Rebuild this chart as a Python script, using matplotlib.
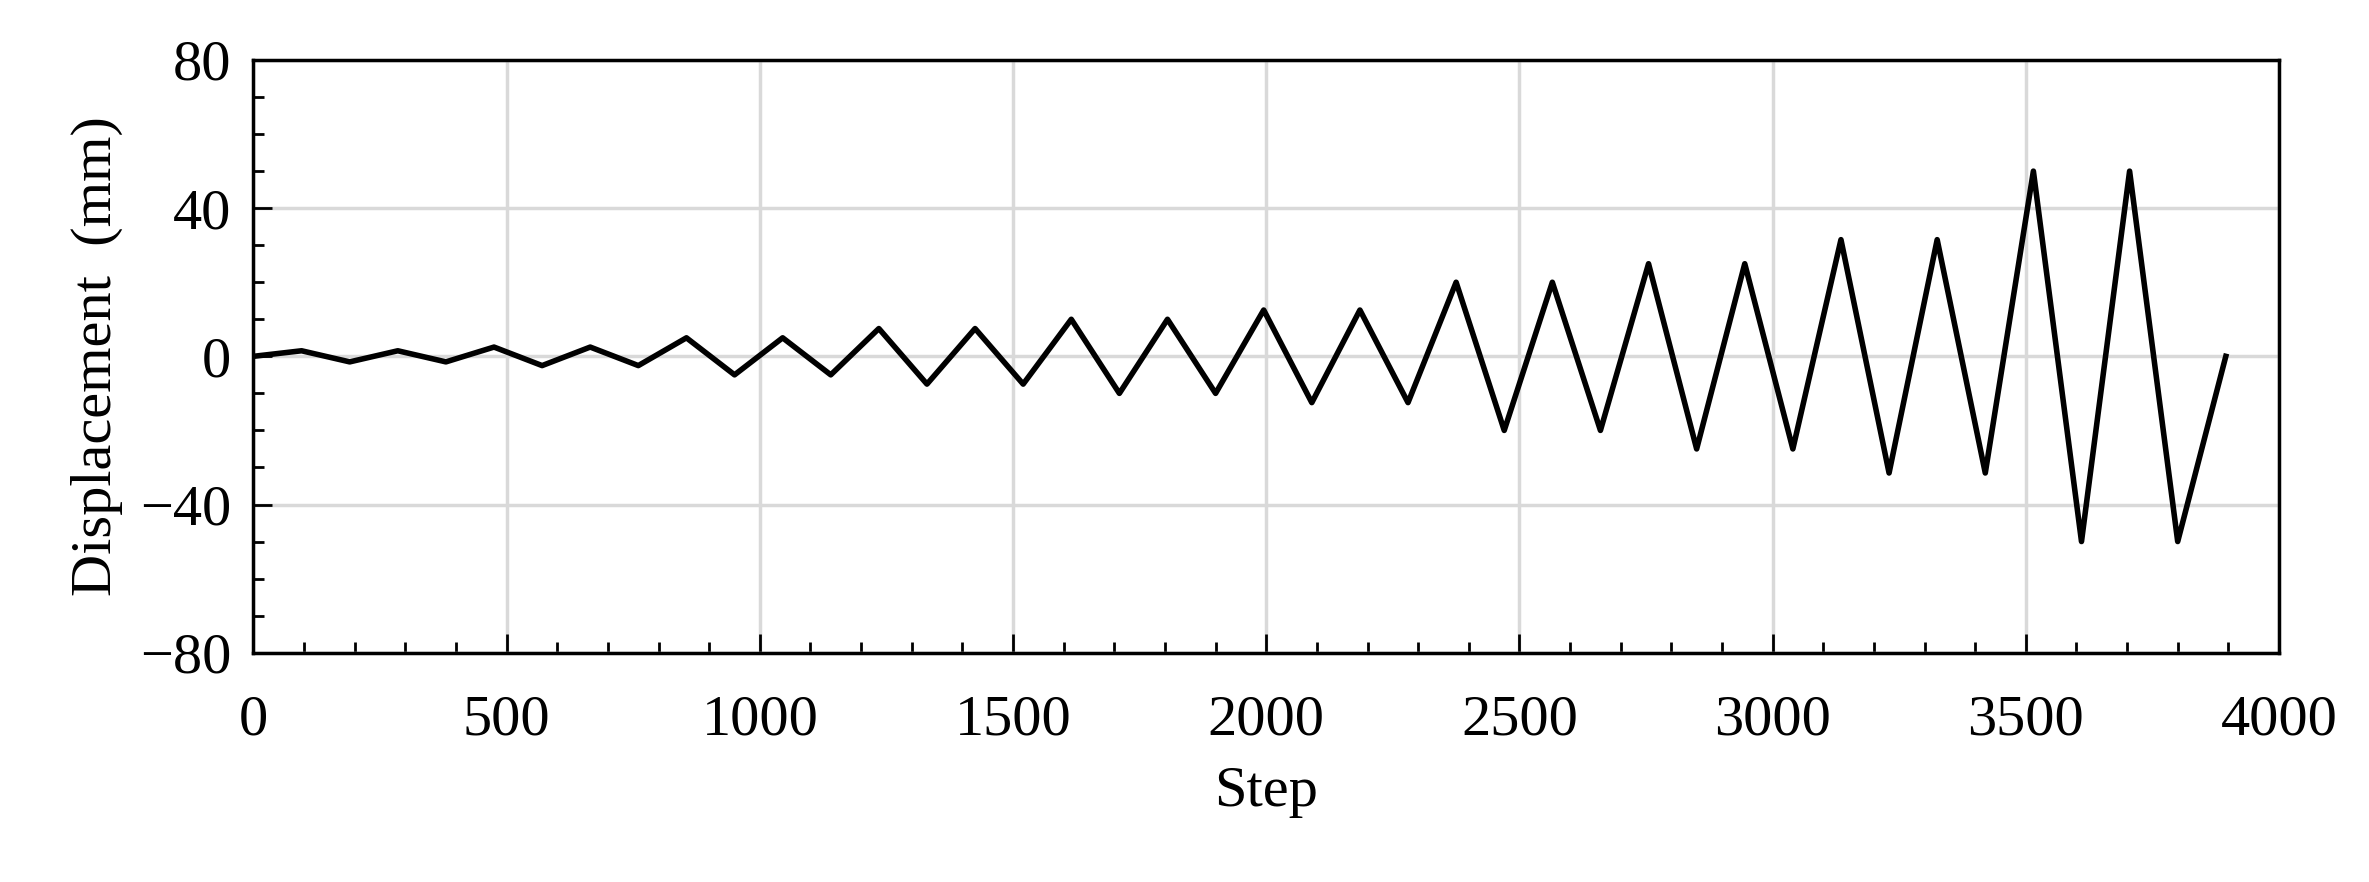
import matplotlib
matplotlib.use("Agg")
import matplotlib.pyplot as plt
from matplotlib.ticker import MultipleLocator

steps = [0, 95, 190, 285, 380, 475, 570, 665, 760, 855, 950, 1045, 1140, 1235, 1330, 1425, 1520,
         1615, 1710, 1805, 1900, 1995, 2090, 2185, 2280, 2375, 2470, 2565, 2660, 2755, 2850, 2945,
         3040, 3135, 3230, 3325, 3420, 3515, 3610, 3705, 3800, 3895]
disp = [0, 1.5, -1.5, 1.5, -1.5, 2.5, -2.5, 2.5, -2.5, 5, -5, 5, -5, 7.5, -7.5, 7.5, -7.5,
        10, -10, 10, -10, 12.5, -12.5, 12.5, -12.5, 20, -20, 20, -20, 25, -25, 25,
        -25, 31.5, -31.5, 31.5, -31.5, 50, -50, 50, -50, 0]

plt.rcParams['font.family'] = ['Liberation Serif', 'DejaVu Serif']
fig = plt.figure(figsize=(23.69, 8.82), dpi=100)
ax = fig.add_axes([0.107, 0.26, 0.855, 0.672])
ax.plot(steps, disp, color='black', lw=4)
ax.set_xlim(0, 4000)
ax.set_ylim(-80, 80)
ax.xaxis.set_major_locator(MultipleLocator(500))
ax.xaxis.set_minor_locator(MultipleLocator(100))
ax.yaxis.set_minor_locator(MultipleLocator(10))
ax.set_yticks([-80, -40, 0, 40, 80])
ax.set_yticklabels(['\u221280', '\u221240', '0', '40', '80'])
ax.grid(True, which='major', color='#d9d9d9', lw=2.5)
ax.set_axisbelow(True)
ax.tick_params(which='both', direction='in', labelsize=42, width=2)
ax.tick_params(which='major', length=14)
ax.tick_params(which='minor', length=8)
ax.tick_params(axis='y', pad=16)
ax.tick_params(axis='x', pad=30)
for s in ax.spines.values():
    s.set_linewidth(2.5)
ax.set_xlabel('Step', fontsize=42, labelpad=14)
ax.set_ylabel('Displacement  (mm)', fontsize=42, labelpad=12)
fig.savefig('out.png', dpi=100)
